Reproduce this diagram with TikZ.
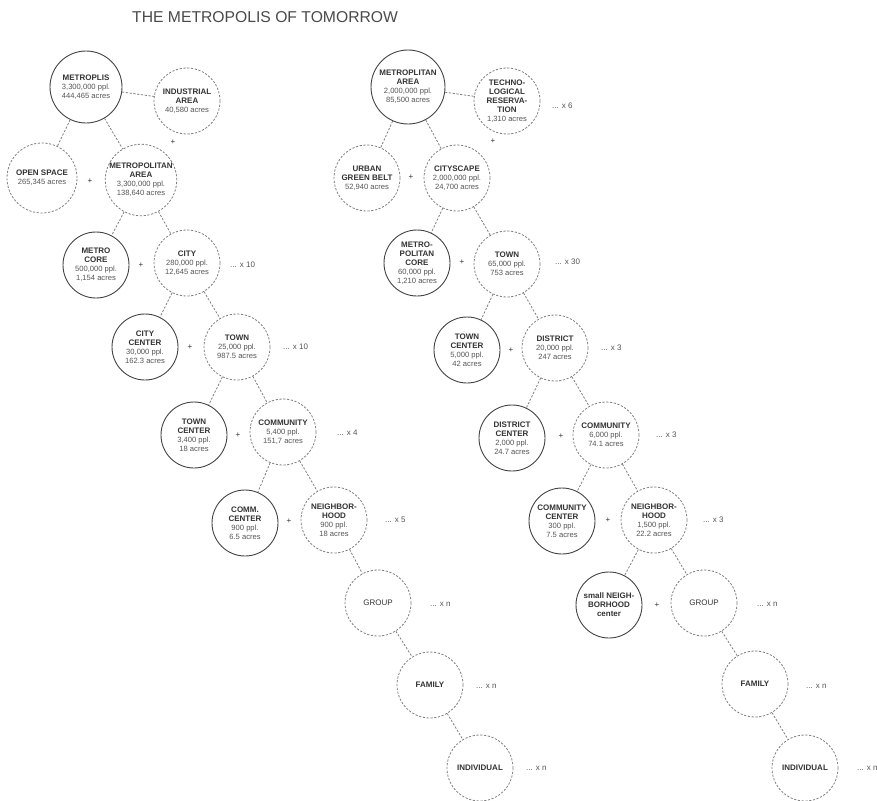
\documentclass[tikz,border=0pt]{standalone}
\usepackage{fontspec}
\setmainfont{Liberation Sans}
\definecolor{txt}{HTML}{333333}
\definecolor{numcol}{HTML}{555555}
\definecolor{solidcol}{HTML}{444444}
\definecolor{dashcol}{HTML}{808080}
\definecolor{titlecol}{HTML}{4a4a4a}
\newcommand\dat[1]{{\mdseries\color{numcol}\fontsize{7.6}{9}\selectfont #1}}
\tikzset{
  basec/.style={circle, inner sep=0pt, align=center, font=\fontsize{8}{9}\selectfont\bfseries, text=txt},
  solidc/.style={basec, draw=solidcol, line width=0.9pt, minimum size=66pt},
  dashc/.style={basec, draw=dashcol, line width=0.8pt, dash pattern=on 2.2pt off 1.6pt, minimum size=66pt},
  link/.style={draw=dashcol, line width=0.8pt, dash pattern=on 2.2pt off 1.6pt},
  plus/.style={font=\fontsize{8}{9}\selectfont, text=txt, inner sep=0pt},
  mult/.style={font=\fontsize{8}{9}\selectfont, text=numcol, inner sep=0pt},
}
\begin{document}
\begin{tikzpicture}[x=1pt,y=-1pt]
\useasboundingbox[fill=white] (0,0) rectangle (877,800);
\node[anchor=west, font=\fontsize{15.7}{18}\selectfont, text=titlecol, inner sep=0pt] (title) at (132,17) {THE METROPOLIS OF TOMORROW};

% ---------- left tree ----------
\node[solidc, minimum size=72pt] (L1) at (86,87) {METROPLIS\\\dat{3,300,000 ppl.}\\\dat{444,465 acres}};
\node[dashc] (L2) at (187,101) {INDUSTRIAL\\AREA\\\dat{40,580 acres}};
\node[plus] (pA) at (173,142) {+};
\node[dashc, minimum size=70pt] (L3) at (42,178) {OPEN SPACE\\\dat{265,345 acres}};
\node[plus] (pB) at (90,181) {+};
\node[dashc, minimum size=70pt] (L4) at (141,180) {METROPOLITAN\\AREA\\\dat{3,300,000 ppl.}\\\dat{138,640 acres}};
\node[solidc] (L5) at (96,265) {METRO\\CORE\\\dat{500,000 ppl.}\\\dat{1,154 acres}};
\node[plus] (pC) at (141,265) {+};
\node[dashc] (L6) at (187,263) {CITY\\\dat{280,000 ppl.}\\\dat{12,645 acres}};
\node[mult, anchor=west] (mC) at (230,265) {... x 10};
\node[solidc] (L7) at (145,347) {CITY\\CENTER\\\dat{30,000 ppl.}\\\dat{162.3 acres}};
\node[plus] (pD) at (190,347) {+};
\node[dashc] (L8) at (237,347) {TOWN\\\dat{25,000 ppl.}\\\dat{987.5 acres}};
\node[mult, anchor=west] (mD) at (283,347) {... x 10};
\node[solidc] (L9) at (194,435) {TOWN\\CENTER\\\dat{3,400 ppl.}\\\dat{18 acres}};
\node[plus] (pE) at (238,435) {+};
\node[dashc] (L10) at (283,432) {COMMUNITY\\\dat{5,400 ppl.}\\\dat{151,7 acres}};
\node[mult, anchor=west] (mE) at (337,433) {... x 4};
\node[solidc] (L11) at (245,523) {COMM.\\CENTER\\\dat{900 ppl.}\\\dat{6.5 acres}};
\node[plus] (pF) at (289,521) {+};
\node[dashc] (L12) at (334,520) {NEIGHBOR-\\HOOD\\\dat{900 ppl.}\\\dat{18 acres}};
\node[mult, anchor=west] (mF) at (385,520) {... x 5};
\node[dashc] (L13) at (378,603) {\mdseries GROUP};
\node[mult, anchor=west] (mG) at (430,604) {... x n};
\node[dashc] (L14) at (430,685) {FAMILY};
\node[mult, anchor=west] (mH) at (476,686) {... x n};
\node[dashc] (L15) at (480,768) {INDIVIDUAL};
\node[mult, anchor=west] (mI) at (526,768) {... x n};

\draw[link] (L1) -- (L2);
\draw[link] (L1) -- (L3);
\draw[link] (L1) -- (L4);
\draw[link] (L4) -- (L5);
\draw[link] (L4) -- (L6);
\draw[link] (L6) -- (L7);
\draw[link] (L6) -- (L8);
\draw[link] (L8) -- (L9);
\draw[link] (L8) -- (L10);
\draw[link] (L10) -- (L11);
\draw[link] (L10) -- (L12);
\draw[link] (L12) -- (L13);
\draw[link] (L13) -- (L14);
\draw[link] (L14) -- (L15);

% ---------- right tree ----------
\node[solidc, minimum size=74pt] (R1) at (408,87) {METROPLITAN\\AREA\\\dat{2,000,000 ppl.}\\\dat{85,500 acres}};
\node[dashc] (R2) at (507,101) {TECHNO-\\LOGICAL\\RESERVA-\\TION\\\dat{1,310 acres}};
\node[mult, anchor=west] (mR2) at (552,106) {... x 6};
\node[plus] (pR1) at (493,141) {+};
\node[dashc] (R3) at (367,178) {URBAN\\GREEN BELT\\\dat{52,940 acres}};
\node[plus] (pR2) at (411,177) {+};
\node[dashc] (R4) at (457,178) {CITYSCAPE\\\dat{2,000,000 ppl.}\\\dat{24,700 acres}};
\node[solidc] (R5) at (417,263) {METRO-\\POLITAN\\CORE\\\dat{60,000 ppl.}\\\dat{1,210 acres}};
\node[plus] (pR3) at (462,262) {+};
\node[dashc] (R6) at (507,264) {TOWN\\\dat{65,000 ppl.}\\\dat{753 acres}};
\node[mult, anchor=west] (mR6) at (555,262) {... x 30};
\node[solidc] (R7) at (467,350) {TOWN\\CENTER\\\dat{5,000 ppl.}\\\dat{42 acres}};
\node[plus] (pR4) at (511,350) {+};
\node[dashc] (R8) at (555,348) {DISTRICT\\\dat{20,000 ppl.}\\\dat{247 acres}};
\node[mult, anchor=west] (mR8) at (601,348) {... x 3};
\node[solidc] (R9) at (512,438) {DISTRICT\\CENTER\\\dat{2,000 ppl.}\\\dat{24.7 acres}};
\node[plus] (pR5) at (561,436) {+};
\node[dashc] (R10) at (606,435) {COMMUNITY\\\dat{6,000 ppl.}\\\dat{74.1 acres}};
\node[mult, anchor=west] (mR10) at (656,435) {... x 3};
\node[solidc] (R11) at (562,521) {COMMUNITY\\CENTER\\\dat{300 ppl.}\\\dat{7.5 acres}};
\node[plus] (pR6) at (608,520) {+};
\node[dashc] (R12) at (654,520) {NEIGHBOR-\\HOOD\\\dat{1,500 ppl.}\\\dat{22.2 acres}};
\node[mult, anchor=west] (mR12) at (703,520) {... x 3};
\node[solidc] (R13) at (609,605) {small NEIGH-\\BORHOOD\\center};
\node[plus] (pR7) at (657,605) {+};
\node[dashc] (R14) at (704,603) {\mdseries GROUP};
\node[mult, anchor=west] (mR14) at (757,604) {... x n};
\node[dashc] (R15) at (755,684) {FAMILY};
\node[mult, anchor=west] (mR15) at (806,686) {... x n};
\node[dashc] (R16) at (805,768) {INDIVIDUAL};
\node[mult, anchor=west] (mR16) at (857,768) {... x n};

\draw[link] (R1) -- (R2);
\draw[link] (R1) -- (R3);
\draw[link] (R1) -- (R4);
\draw[link] (R4) -- (R5);
\draw[link] (R4) -- (R6);
\draw[link] (R6) -- (R7);
\draw[link] (R6) -- (R8);
\draw[link] (R8) -- (R9);
\draw[link] (R8) -- (R10);
\draw[link] (R10) -- (R11);
\draw[link] (R10) -- (R12);
\draw[link] (R12) -- (R13);
\draw[link] (R12) -- (R14);
\draw[link] (R14) -- (R15);
\draw[link] (R15) -- (R16);
\end{tikzpicture}
\end{document}
